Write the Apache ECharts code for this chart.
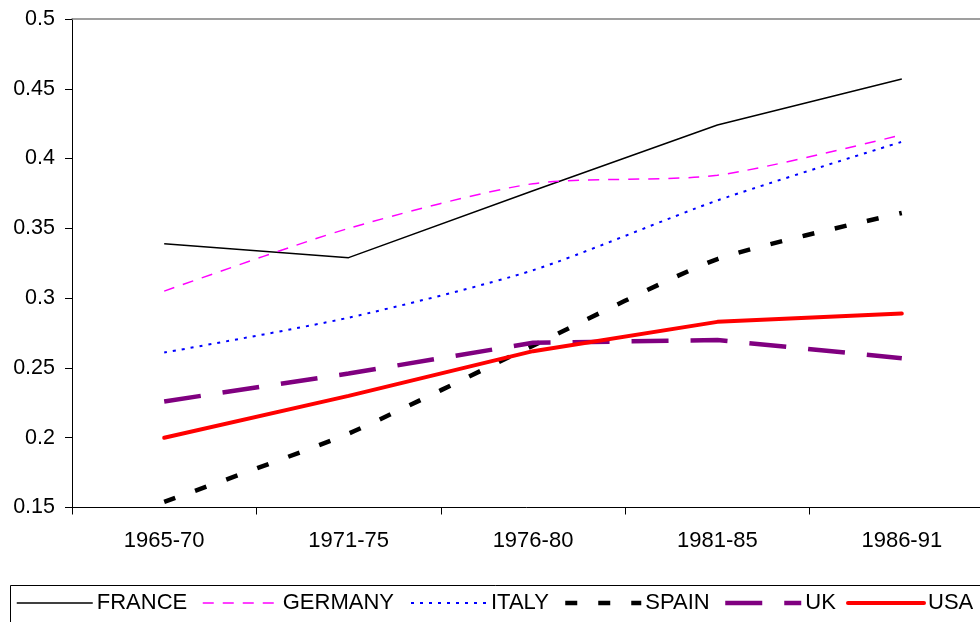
<!DOCTYPE html>
<html><head><meta charset="utf-8">
<script src="https://cdn.jsdelivr.net/npm/echarts@6/dist/echarts.min.js"></script>
<style>html,body{margin:0;padding:0;background:#fff}#c{width:980px;height:622px}</style>
</head><body><div id="c"></div>
<script>
var categories = ['1965-70','1971-75','1976-80','1981-85','1986-91'];
var yTicks = [0.15,0.2,0.25,0.3,0.35,0.4,0.45,0.5];
var france  = [0.339,0.329,0.377,0.424,0.457];
var germany = [0.305,0.350,0.382,0.388,0.417];
var italy   = [0.261,0.286,0.320,0.370,0.412];
var spain   = [0.154,0.203,0.266,0.328,0.361];
var uk      = [0.226,0.246,0.268,0.270,0.257];
var usa     = [0.200,0.230,0.262,0.283,0.289];
var names = ['FRANCE','GERMANY','ITALY','SPAIN','UK','USA'];

var FONT = '"Liberation Sans", Arial, sans-serif';
var styles = {
  FRANCE:  {color:'#000000', width:1.5, type:'solid', smooth:false},
  GERMANY: {color:'#FF00FF', width:1.5, type:[11,9], smooth:0.25},
  ITALY:   {color:'#0000FF', width:2,   type:[3,6], smooth:0.25},
  SPAIN:   {color:'#000000', width:4.5, type:[12,21], smooth:0.2},
  UK:      {color:'#800080', width:4.5, type:[37,22], smooth:false},
  USA:     {color:'#FF0000', width:4,   type:'solid', cap:'round', smooth:false}
};
var dataMap = {FRANCE:france, GERMANY:germany, ITALY:italy, SPAIN:spain, UK:uk, USA:usa};
var legendLeft = {FRANCE:16, GERMANY:202, ITALY:410, SPAIN:563, UK:723, USA:846};

var series = names.map(function(n){
  var s = styles[n];
  return {
    name:n, type:'line', data:dataMap[n], showSymbol:false, symbol:'none',
    color:s.color, animation:false, smooth:s.smooth,
    lineStyle:{color:s.color, width:s.width, type:s.type, cap:s.cap||'butt'}
  };
});

var legends = names.map(function(n){
  var s = styles[n];
  return {
    data:[n], left:legendLeft[n], top:592, itemWidth:76, itemHeight:14,
    itemGap:0, padding:0, selectedMode:false,
    textStyle:{fontFamily:FONT, fontSize:22, color:'#000', padding:[0,0,0,-1]},
    itemStyle:{opacity:0},
    lineStyle:{color:s.color, width:s.width, type:s.type, cap:s.cap||'butt', opacity:1}
  };
});

var chart = echarts.init(document.getElementById('c'), null, {renderer:'canvas'});
chart.setOption({
  backgroundColor:'#ffffff',
  animation:false,
  grid:{left:72, top:19, width:922, height:488.5, containLabel:false, outerBoundsMode:'none'},
  xAxis:[{
    type:'category', data:categories, boundaryGap:true,
    axisLine:{lineStyle:{color:'#000', width:1}},
    axisTick:{show:true, length:7, lineStyle:{color:'#000'}},
    axisLabel:{fontFamily:FONT, fontSize:22, color:'#000', margin:22},
    splitLine:{show:false}
  },{
    type:'category', data:categories, position:'top',
    axisLine:{show:true, lineStyle:{color:'#808080', width:1.5}},
    axisTick:{show:false}, axisLabel:{show:false}, splitLine:{show:false}
  }],
  yAxis:{
    type:'value', min:yTicks[0], max:yTicks[yTicks.length-1], interval:0.05,
    axisLine:{show:true, lineStyle:{color:'#000', width:1}},
    axisTick:{show:true, length:7, lineStyle:{color:'#000'}},
    axisLabel:{fontFamily:FONT, fontSize:21.5, color:'#000', margin:17},
    splitLine:{show:false}
  },
  legend:legends,
  graphic:[{
    type:'rect', left:8, top:583, shape:{x:0,y:0,width:1000,height:60},
    style:{fill:'none', stroke:'#000', lineWidth:1}, silent:true, z:-1
  }],
  series:series
});
</script></body></html>
